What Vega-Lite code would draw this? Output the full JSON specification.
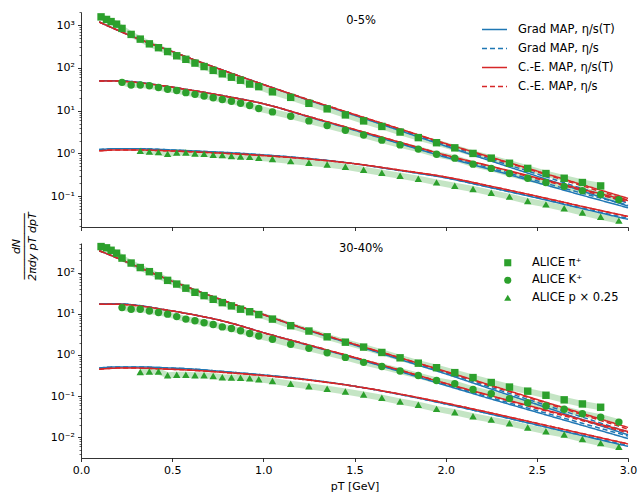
{
"$schema": "https://vega.github.io/schema/vega-lite/v6.json",
"padding": {"left": 10, "top": 4, "right": 5, "bottom": 2},
"bounds": "flush",
"spacing": 16,
"config": {
  "font": "DejaVu Sans",
  "view": {"stroke": null},
  "axis": {"domainColor": "#000", "tickColor": "#000", "labelColor": "#000", "titleColor": "#000", "labelFont": "DejaVu Sans", "titleFont": "DejaVu Sans", "labelFontSize": 11, "titleFontSize": 11, "titleFontWeight": "normal", "tickSize": 3.5, "domainWidth": 0.8, "tickWidth": 0.8, "grid": false, "labelPadding": 3, "labelFlush": false},
  "legend": {"labelFont": "DejaVu Sans", "labelFontSize": 11.5, "labelColor": "#000"}
},
"datasets": {
"pts": [
{"c":"a","s":"pi","x":0.11,"y":1549},{"c":"a","s":"pi","x":0.14,"y":1349},{"c":"a","s":"pi","x":0.165,"y":1202},{"c":"a","s":"pi","x":0.195,"y":1047},{"c":"a","s":"pi","x":0.225,"y":832},{"c":"a","s":"pi","x":0.275,"y":603},{"c":"a","s":"pi","x":0.325,"y":468},{"c":"a","s":"pi","x":0.375,"y":363},{"c":"a","s":"pi","x":0.425,"y":295},{"c":"a","s":"pi","x":0.475,"y":240},{"c":"a","s":"pi","x":0.525,"y":191},{"c":"a","s":"pi","x":0.575,"y":158},{"c":"a","s":"pi","x":0.625,"y":129},{"c":"a","s":"pi","x":0.675,"y":107},{"c":"a","s":"pi","x":0.725,"y":87.1},{"c":"a","s":"pi","x":0.775,"y":72.4},{"c":"a","s":"pi","x":0.825,"y":60.3},{"c":"a","s":"pi","x":0.875,"y":51.3},{"c":"a","s":"pi","x":0.925,"y":41.7},{"c":"a","s":"pi","x":0.975,"y":36.3},{"c":"a","s":"pi","x":1.05,"y":27.5},{"c":"a","s":"pi","x":1.15,"y":20.4},{"c":"a","s":"pi","x":1.25,"y":14.8},{"c":"a","s":"pi","x":1.35,"y":11.0},{"c":"a","s":"pi","x":1.45,"y":7.94},{"c":"a","s":"pi","x":1.55,"y":5.75},{"c":"a","s":"pi","x":1.65,"y":4.27},{"c":"a","s":"pi","x":1.75,"y":3.16},{"c":"a","s":"pi","x":1.85,"y":2.34},{"c":"a","s":"pi","x":1.95,"y":1.78},{"c":"a","s":"pi","x":2.05,"y":1.35},{"c":"a","s":"pi","x":2.15,"y":1.0},{"c":"a","s":"pi","x":2.25,"y":0.776},{"c":"a","s":"pi","x":2.35,"y":0.589},{"c":"a","s":"pi","x":2.45,"y":0.447},{"c":"a","s":"pi","x":2.55,"y":0.339},{"c":"a","s":"pi","x":2.65,"y":0.263},{"c":"a","s":"pi","x":2.75,"y":0.209},{"c":"a","s":"pi","x":2.85,"y":0.174},
{"c":"a","s":"K","x":0.225,"y":45.7},{"c":"a","s":"K","x":0.275,"y":39.8},{"c":"a","s":"K","x":0.325,"y":39.8},{"c":"a","s":"K","x":0.375,"y":38.0},{"c":"a","s":"K","x":0.425,"y":34.7},{"c":"a","s":"K","x":0.475,"y":31.6},{"c":"a","s":"K","x":0.525,"y":29.5},{"c":"a","s":"K","x":0.575,"y":26.3},{"c":"a","s":"K","x":0.625,"y":24.0},{"c":"a","s":"K","x":0.675,"y":21.9},{"c":"a","s":"K","x":0.725,"y":20.0},{"c":"a","s":"K","x":0.775,"y":18.2},{"c":"a","s":"K","x":0.825,"y":16.6},{"c":"a","s":"K","x":0.875,"y":14.8},{"c":"a","s":"K","x":0.925,"y":13.2},{"c":"a","s":"K","x":0.975,"y":11.2},{"c":"a","s":"K","x":1.05,"y":9.33},{"c":"a","s":"K","x":1.15,"y":7.41},{"c":"a","s":"K","x":1.25,"y":5.75},{"c":"a","s":"K","x":1.35,"y":4.47},{"c":"a","s":"K","x":1.45,"y":3.47},{"c":"a","s":"K","x":1.55,"y":2.69},{"c":"a","s":"K","x":1.65,"y":2.04},{"c":"a","s":"K","x":1.75,"y":1.58},{"c":"a","s":"K","x":1.85,"y":1.26},{"c":"a","s":"K","x":1.95,"y":0.955},{"c":"a","s":"K","x":2.05,"y":0.776},{"c":"a","s":"K","x":2.15,"y":0.562},{"c":"a","s":"K","x":2.25,"y":0.447},{"c":"a","s":"K","x":2.35,"y":0.339},{"c":"a","s":"K","x":2.45,"y":0.263},{"c":"a","s":"K","x":2.55,"y":0.209},{"c":"a","s":"K","x":2.65,"y":0.17},{"c":"a","s":"K","x":2.75,"y":0.135},{"c":"a","s":"K","x":2.85,"y":0.11},{"c":"a","s":"K","x":2.95,"y":0.0832},
{"c":"a","s":"p","x":0.325,"y":1.148},{"c":"a","s":"p","x":0.375,"y":1.1},{"c":"a","s":"p","x":0.425,"y":1.07},{"c":"a","s":"p","x":0.475,"y":0.977},{"c":"a","s":"p","x":0.525,"y":1.047},{"c":"a","s":"p","x":0.575,"y":1.047},{"c":"a","s":"p","x":0.625,"y":1.0},{"c":"a","s":"p","x":0.675,"y":0.977},{"c":"a","s":"p","x":0.725,"y":0.933},{"c":"a","s":"p","x":0.775,"y":0.912},{"c":"a","s":"p","x":0.825,"y":0.871},{"c":"a","s":"p","x":0.875,"y":0.851},{"c":"a","s":"p","x":0.925,"y":0.832},{"c":"a","s":"p","x":0.975,"y":0.794},{"c":"a","s":"p","x":1.05,"y":0.741},{"c":"a","s":"p","x":1.15,"y":0.661},{"c":"a","s":"p","x":1.25,"y":0.603},{"c":"a","s":"p","x":1.35,"y":0.55},{"c":"a","s":"p","x":1.45,"y":0.49},{"c":"a","s":"p","x":1.55,"y":0.417},{"c":"a","s":"p","x":1.65,"y":0.355},{"c":"a","s":"p","x":1.75,"y":0.302},{"c":"a","s":"p","x":1.85,"y":0.257},{"c":"a","s":"p","x":1.95,"y":0.211},{"c":"a","s":"p","x":2.05,"y":0.176},{"c":"a","s":"p","x":2.15,"y":0.148},{"c":"a","s":"p","x":2.25,"y":0.12},{"c":"a","s":"p","x":2.35,"y":0.0977},{"c":"a","s":"p","x":2.45,"y":0.0776},{"c":"a","s":"p","x":2.55,"y":0.0646},{"c":"a","s":"p","x":2.65,"y":0.0525},{"c":"a","s":"p","x":2.75,"y":0.0417},{"c":"a","s":"p","x":2.85,"y":0.0331},{"c":"a","s":"p","x":2.95,"y":0.0269},
{"c":"b","s":"pi","x":0.11,"y":427},{"c":"b","s":"pi","x":0.14,"y":398},{"c":"b","s":"pi","x":0.165,"y":347},{"c":"b","s":"pi","x":0.195,"y":295},{"c":"b","s":"pi","x":0.225,"y":224},{"c":"b","s":"pi","x":0.275,"y":170},{"c":"b","s":"pi","x":0.325,"y":132},{"c":"b","s":"pi","x":0.375,"y":105},{"c":"b","s":"pi","x":0.425,"y":83.2},{"c":"b","s":"pi","x":0.475,"y":64.6},{"c":"b","s":"pi","x":0.525,"y":52.5},{"c":"b","s":"pi","x":0.575,"y":41.7},{"c":"b","s":"pi","x":0.625,"y":33.1},{"c":"b","s":"pi","x":0.675,"y":27.5},{"c":"b","s":"pi","x":0.725,"y":22.4},{"c":"b","s":"pi","x":0.775,"y":18.6},{"c":"b","s":"pi","x":0.825,"y":15.5},{"c":"b","s":"pi","x":0.875,"y":12.9},{"c":"b","s":"pi","x":0.925,"y":11.2},{"c":"b","s":"pi","x":0.975,"y":9.55},{"c":"b","s":"pi","x":1.05,"y":7.41},{"c":"b","s":"pi","x":1.15,"y":5.13},{"c":"b","s":"pi","x":1.25,"y":3.8},{"c":"b","s":"pi","x":1.35,"y":2.75},{"c":"b","s":"pi","x":1.45,"y":2.04},{"c":"b","s":"pi","x":1.55,"y":1.55},{"c":"b","s":"pi","x":1.65,"y":1.148},{"c":"b","s":"pi","x":1.75,"y":0.851},{"c":"b","s":"pi","x":1.85,"y":0.631},{"c":"b","s":"pi","x":1.95,"y":0.49},{"c":"b","s":"pi","x":2.05,"y":0.372},{"c":"b","s":"pi","x":2.15,"y":0.282},{"c":"b","s":"pi","x":2.25,"y":0.214},{"c":"b","s":"pi","x":2.35,"y":0.166},{"c":"b","s":"pi","x":2.45,"y":0.132},{"c":"b","s":"pi","x":2.55,"y":0.105},{"c":"b","s":"pi","x":2.65,"y":0.0813},{"c":"b","s":"pi","x":2.75,"y":0.0646},{"c":"b","s":"pi","x":2.85,"y":0.0537},
{"c":"b","s":"K","x":0.225,"y":14.1},{"c":"b","s":"K","x":0.275,"y":12.9},{"c":"b","s":"K","x":0.325,"y":12.9},{"c":"b","s":"K","x":0.375,"y":11.7},{"c":"b","s":"K","x":0.425,"y":10.7},{"c":"b","s":"K","x":0.475,"y":9.77},{"c":"b","s":"K","x":0.525,"y":8.51},{"c":"b","s":"K","x":0.575,"y":7.41},{"c":"b","s":"K","x":0.625,"y":6.76},{"c":"b","s":"K","x":0.675,"y":6.03},{"c":"b","s":"K","x":0.725,"y":5.5},{"c":"b","s":"K","x":0.775,"y":4.79},{"c":"b","s":"K","x":0.825,"y":4.37},{"c":"b","s":"K","x":0.875,"y":3.85},{"c":"b","s":"K","x":0.925,"y":3.31},{"c":"b","s":"K","x":0.975,"y":2.88},{"c":"b","s":"K","x":1.05,"y":2.4},{"c":"b","s":"K","x":1.15,"y":1.82},{"c":"b","s":"K","x":1.25,"y":1.445},{"c":"b","s":"K","x":1.35,"y":1.122},{"c":"b","s":"K","x":1.45,"y":0.871},{"c":"b","s":"K","x":1.55,"y":0.661},{"c":"b","s":"K","x":1.65,"y":0.525},{"c":"b","s":"K","x":1.75,"y":0.407},{"c":"b","s":"K","x":1.85,"y":0.316},{"c":"b","s":"K","x":1.95,"y":0.24},{"c":"b","s":"K","x":2.05,"y":0.2},{"c":"b","s":"K","x":2.15,"y":0.145},{"c":"b","s":"K","x":2.25,"y":0.115},{"c":"b","s":"K","x":2.35,"y":0.0871},{"c":"b","s":"K","x":2.45,"y":0.0692},{"c":"b","s":"K","x":2.55,"y":0.0575},{"c":"b","s":"K","x":2.65,"y":0.0479},{"c":"b","s":"K","x":2.75,"y":0.0372},{"c":"b","s":"K","x":2.85,"y":0.0309},{"c":"b","s":"K","x":2.95,"y":0.0234},
{"c":"b","s":"p","x":0.325,"y":0.385},{"c":"b","s":"p","x":0.375,"y":0.398},{"c":"b","s":"p","x":0.425,"y":0.398},{"c":"b","s":"p","x":0.475,"y":0.32},{"c":"b","s":"p","x":0.525,"y":0.331},{"c":"b","s":"p","x":0.575,"y":0.331},{"c":"b","s":"p","x":0.625,"y":0.32},{"c":"b","s":"p","x":0.675,"y":0.32},{"c":"b","s":"p","x":0.725,"y":0.309},{"c":"b","s":"p","x":0.775,"y":0.288},{"c":"b","s":"p","x":0.825,"y":0.282},{"c":"b","s":"p","x":0.875,"y":0.279},{"c":"b","s":"p","x":0.925,"y":0.272},{"c":"b","s":"p","x":0.975,"y":0.257},{"c":"b","s":"p","x":1.05,"y":0.234},{"c":"b","s":"p","x":1.15,"y":0.2},{"c":"b","s":"p","x":1.25,"y":0.174},{"c":"b","s":"p","x":1.35,"y":0.151},{"c":"b","s":"p","x":1.45,"y":0.13},{"c":"b","s":"p","x":1.55,"y":0.11},{"c":"b","s":"p","x":1.65,"y":0.0912},{"c":"b","s":"p","x":1.75,"y":0.0741},{"c":"b","s":"p","x":1.85,"y":0.0617},{"c":"b","s":"p","x":1.95,"y":0.049},{"c":"b","s":"p","x":2.05,"y":0.0407},{"c":"b","s":"p","x":2.15,"y":0.0324},{"c":"b","s":"p","x":2.25,"y":0.0269},{"c":"b","s":"p","x":2.35,"y":0.0219},{"c":"b","s":"p","x":2.45,"y":0.0174},{"c":"b","s":"p","x":2.55,"y":0.0141},{"c":"b","s":"p","x":2.65,"y":0.0117},{"c":"b","s":"p","x":2.75,"y":0.00912},{"c":"b","s":"p","x":2.85,"y":0.00724},{"c":"b","s":"p","x":2.95,"y":0.00589}
],
"cur": [
{"c":"a","s":"pi","m":"GT","x":0.1,"y":1175},{"c":"a","s":"pi","m":"GT","x":0.2,"y":759},{"c":"a","s":"pi","m":"GT","x":0.3,"y":501},{"c":"a","s":"pi","m":"GT","x":0.45,"y":288},{"c":"a","s":"pi","m":"GT","x":0.6,"y":166},{"c":"a","s":"pi","m":"GT","x":0.8,"y":81.3},{"c":"a","s":"pi","m":"GT","x":1.0,"y":40.7},{"c":"a","s":"pi","m":"GT","x":1.25,"y":17.4},{"c":"a","s":"pi","m":"GT","x":1.5,"y":7.76},{"c":"a","s":"pi","m":"GT","x":1.75,"y":3.39},{"c":"a","s":"pi","m":"GT","x":2.0,"y":1.479},{"c":"a","s":"pi","m":"GT","x":2.25,"y":0.661},{"c":"a","s":"pi","m":"GT","x":2.5,"y":0.295},{"c":"a","s":"pi","m":"GT","x":2.75,"y":0.132},{"c":"a","s":"pi","m":"GT","x":3.0,"y":0.0589},
{"c":"a","s":"K","m":"GT","x":0.1,"y":50.1},{"c":"a","s":"K","m":"GT","x":0.2,"y":50.1},{"c":"a","s":"K","m":"GT","x":0.3,"y":46.8},{"c":"a","s":"K","m":"GT","x":0.45,"y":38.0},{"c":"a","s":"K","m":"GT","x":0.6,"y":30.2},{"c":"a","s":"K","m":"GT","x":0.8,"y":21.4},{"c":"a","s":"K","m":"GT","x":1.0,"y":14.5},{"c":"a","s":"K","m":"GT","x":1.25,"y":7.08},{"c":"a","s":"K","m":"GT","x":1.5,"y":3.47},{"c":"a","s":"K","m":"GT","x":1.75,"y":1.68},{"c":"a","s":"K","m":"GT","x":2.0,"y":0.813},{"c":"a","s":"K","m":"GT","x":2.25,"y":0.417},{"c":"a","s":"K","m":"GT","x":2.5,"y":0.209},{"c":"a","s":"K","m":"GT","x":2.75,"y":0.105},{"c":"a","s":"K","m":"GT","x":3.0,"y":0.0537},
{"c":"a","s":"p","m":"GT","x":0.1,"y":1.23},{"c":"a","s":"p","m":"GT","x":0.2,"y":1.288},{"c":"a","s":"p","m":"GT","x":0.3,"y":1.288},{"c":"a","s":"p","m":"GT","x":0.45,"y":1.23},{"c":"a","s":"p","m":"GT","x":0.6,"y":1.148},{"c":"a","s":"p","m":"GT","x":0.8,"y":1.047},{"c":"a","s":"p","m":"GT","x":1.0,"y":0.923},{"c":"a","s":"p","m":"GT","x":1.25,"y":0.759},{"c":"a","s":"p","m":"GT","x":1.5,"y":0.575},{"c":"a","s":"p","m":"GT","x":1.75,"y":0.398},{"c":"a","s":"p","m":"GT","x":2.0,"y":0.269},{"c":"a","s":"p","m":"GT","x":2.25,"y":0.158},{"c":"a","s":"p","m":"GT","x":2.5,"y":0.0912},{"c":"a","s":"p","m":"GT","x":2.75,"y":0.0513},{"c":"a","s":"p","m":"GT","x":3.0,"y":0.0288},
{"c":"a","s":"pi","m":"G","x":0.1,"y":1175},{"c":"a","s":"pi","m":"G","x":0.2,"y":759},{"c":"a","s":"pi","m":"G","x":0.3,"y":501},{"c":"a","s":"pi","m":"G","x":0.45,"y":288},{"c":"a","s":"pi","m":"G","x":0.6,"y":166},{"c":"a","s":"pi","m":"G","x":0.8,"y":81.3},{"c":"a","s":"pi","m":"G","x":1.0,"y":40.7},{"c":"a","s":"pi","m":"G","x":1.25,"y":17.8},{"c":"a","s":"pi","m":"G","x":1.5,"y":7.94},{"c":"a","s":"pi","m":"G","x":1.75,"y":3.55},{"c":"a","s":"pi","m":"G","x":2.0,"y":1.585},{"c":"a","s":"pi","m":"G","x":2.25,"y":0.724},{"c":"a","s":"pi","m":"G","x":2.5,"y":0.331},{"c":"a","s":"pi","m":"G","x":2.75,"y":0.151},{"c":"a","s":"pi","m":"G","x":3.0,"y":0.0692},
{"c":"a","s":"K","m":"G","x":0.1,"y":50.1},{"c":"a","s":"K","m":"G","x":0.2,"y":50.1},{"c":"a","s":"K","m":"G","x":0.3,"y":46.8},{"c":"a","s":"K","m":"G","x":0.45,"y":38.0},{"c":"a","s":"K","m":"G","x":0.6,"y":30.2},{"c":"a","s":"K","m":"G","x":0.8,"y":21.4},{"c":"a","s":"K","m":"G","x":1.0,"y":14.5},{"c":"a","s":"K","m":"G","x":1.25,"y":7.24},{"c":"a","s":"K","m":"G","x":1.5,"y":3.55},{"c":"a","s":"K","m":"G","x":1.75,"y":1.74},{"c":"a","s":"K","m":"G","x":2.0,"y":0.851},{"c":"a","s":"K","m":"G","x":2.25,"y":0.447},{"c":"a","s":"K","m":"G","x":2.5,"y":0.229},{"c":"a","s":"K","m":"G","x":2.75,"y":0.117},{"c":"a","s":"K","m":"G","x":3.0,"y":0.0617},
{"c":"a","s":"p","m":"G","x":0.1,"y":1.23},{"c":"a","s":"p","m":"G","x":0.2,"y":1.288},{"c":"a","s":"p","m":"G","x":0.3,"y":1.288},{"c":"a","s":"p","m":"G","x":0.45,"y":1.23},{"c":"a","s":"p","m":"G","x":0.6,"y":1.148},{"c":"a","s":"p","m":"G","x":0.8,"y":1.047},{"c":"a","s":"p","m":"G","x":1.0,"y":0.923},{"c":"a","s":"p","m":"G","x":1.25,"y":0.759},{"c":"a","s":"p","m":"G","x":1.5,"y":0.575},{"c":"a","s":"p","m":"G","x":1.75,"y":0.398},{"c":"a","s":"p","m":"G","x":2.0,"y":0.269},{"c":"a","s":"p","m":"G","x":2.25,"y":0.158},{"c":"a","s":"p","m":"G","x":2.5,"y":0.0933},{"c":"a","s":"p","m":"G","x":2.75,"y":0.0525},{"c":"a","s":"p","m":"G","x":3.0,"y":0.0302},
{"c":"a","s":"pi","m":"CT","x":0.1,"y":1175},{"c":"a","s":"pi","m":"CT","x":0.2,"y":759},{"c":"a","s":"pi","m":"CT","x":0.3,"y":501},{"c":"a","s":"pi","m":"CT","x":0.45,"y":288},{"c":"a","s":"pi","m":"CT","x":0.6,"y":166},{"c":"a","s":"pi","m":"CT","x":0.8,"y":81.3},{"c":"a","s":"pi","m":"CT","x":1.0,"y":40.7},{"c":"a","s":"pi","m":"CT","x":1.25,"y":17.8},{"c":"a","s":"pi","m":"CT","x":1.5,"y":8.13},{"c":"a","s":"pi","m":"CT","x":1.75,"y":3.72},{"c":"a","s":"pi","m":"CT","x":2.0,"y":1.7},{"c":"a","s":"pi","m":"CT","x":2.25,"y":0.813},{"c":"a","s":"pi","m":"CT","x":2.5,"y":0.389},{"c":"a","s":"pi","m":"CT","x":2.75,"y":0.186},{"c":"a","s":"pi","m":"CT","x":3.0,"y":0.0891},
{"c":"a","s":"K","m":"CT","x":0.1,"y":49.0},{"c":"a","s":"K","m":"CT","x":0.2,"y":49.0},{"c":"a","s":"K","m":"CT","x":0.3,"y":45.7},{"c":"a","s":"K","m":"CT","x":0.45,"y":38.0},{"c":"a","s":"K","m":"CT","x":0.6,"y":30.2},{"c":"a","s":"K","m":"CT","x":0.8,"y":21.4},{"c":"a","s":"K","m":"CT","x":1.0,"y":14.5},{"c":"a","s":"K","m":"CT","x":1.25,"y":7.24},{"c":"a","s":"K","m":"CT","x":1.5,"y":3.63},{"c":"a","s":"K","m":"CT","x":1.75,"y":1.82},{"c":"a","s":"K","m":"CT","x":2.0,"y":0.912},{"c":"a","s":"K","m":"CT","x":2.25,"y":0.501},{"c":"a","s":"K","m":"CT","x":2.5,"y":0.269},{"c":"a","s":"K","m":"CT","x":2.75,"y":0.145},{"c":"a","s":"K","m":"CT","x":3.0,"y":0.0794},
{"c":"a","s":"p","m":"CT","x":0.1,"y":1.148},{"c":"a","s":"p","m":"CT","x":0.2,"y":1.202},{"c":"a","s":"p","m":"CT","x":0.3,"y":1.202},{"c":"a","s":"p","m":"CT","x":0.45,"y":1.161},{"c":"a","s":"p","m":"CT","x":0.6,"y":1.096},{"c":"a","s":"p","m":"CT","x":0.8,"y":1.0},{"c":"a","s":"p","m":"CT","x":1.0,"y":0.891},{"c":"a","s":"p","m":"CT","x":1.25,"y":0.741},{"c":"a","s":"p","m":"CT","x":1.5,"y":0.575},{"c":"a","s":"p","m":"CT","x":1.75,"y":0.407},{"c":"a","s":"p","m":"CT","x":2.0,"y":0.282},{"c":"a","s":"p","m":"CT","x":2.25,"y":0.17},{"c":"a","s":"p","m":"CT","x":2.5,"y":0.1},{"c":"a","s":"p","m":"CT","x":2.75,"y":0.0575},{"c":"a","s":"p","m":"CT","x":3.0,"y":0.0339},
{"c":"a","s":"pi","m":"C","x":0.1,"y":1175},{"c":"a","s":"pi","m":"C","x":0.2,"y":759},{"c":"a","s":"pi","m":"C","x":0.3,"y":501},{"c":"a","s":"pi","m":"C","x":0.45,"y":288},{"c":"a","s":"pi","m":"C","x":0.6,"y":166},{"c":"a","s":"pi","m":"C","x":0.8,"y":81.3},{"c":"a","s":"pi","m":"C","x":1.0,"y":40.7},{"c":"a","s":"pi","m":"C","x":1.25,"y":17.8},{"c":"a","s":"pi","m":"C","x":1.5,"y":8.13},{"c":"a","s":"pi","m":"C","x":1.75,"y":3.72},{"c":"a","s":"pi","m":"C","x":2.0,"y":1.66},{"c":"a","s":"pi","m":"C","x":2.25,"y":0.785},{"c":"a","s":"pi","m":"C","x":2.5,"y":0.372},{"c":"a","s":"pi","m":"C","x":2.75,"y":0.174},{"c":"a","s":"pi","m":"C","x":3.0,"y":0.0813},
{"c":"a","s":"K","m":"C","x":0.1,"y":49.0},{"c":"a","s":"K","m":"C","x":0.2,"y":49.0},{"c":"a","s":"K","m":"C","x":0.3,"y":45.7},{"c":"a","s":"K","m":"C","x":0.45,"y":38.0},{"c":"a","s":"K","m":"C","x":0.6,"y":30.2},{"c":"a","s":"K","m":"C","x":0.8,"y":21.4},{"c":"a","s":"K","m":"C","x":1.0,"y":14.5},{"c":"a","s":"K","m":"C","x":1.25,"y":7.24},{"c":"a","s":"K","m":"C","x":1.5,"y":3.63},{"c":"a","s":"K","m":"C","x":1.75,"y":1.82},{"c":"a","s":"K","m":"C","x":2.0,"y":0.902},{"c":"a","s":"K","m":"C","x":2.25,"y":0.49},{"c":"a","s":"K","m":"C","x":2.5,"y":0.257},{"c":"a","s":"K","m":"C","x":2.75,"y":0.136},{"c":"a","s":"K","m":"C","x":3.0,"y":0.0741},
{"c":"a","s":"p","m":"C","x":0.1,"y":1.148},{"c":"a","s":"p","m":"C","x":0.2,"y":1.202},{"c":"a","s":"p","m":"C","x":0.3,"y":1.202},{"c":"a","s":"p","m":"C","x":0.45,"y":1.161},{"c":"a","s":"p","m":"C","x":0.6,"y":1.096},{"c":"a","s":"p","m":"C","x":0.8,"y":1.0},{"c":"a","s":"p","m":"C","x":1.0,"y":0.891},{"c":"a","s":"p","m":"C","x":1.25,"y":0.741},{"c":"a","s":"p","m":"C","x":1.5,"y":0.575},{"c":"a","s":"p","m":"C","x":1.75,"y":0.407},{"c":"a","s":"p","m":"C","x":2.0,"y":0.282},{"c":"a","s":"p","m":"C","x":2.25,"y":0.17},{"c":"a","s":"p","m":"C","x":2.5,"y":0.1},{"c":"a","s":"p","m":"C","x":2.75,"y":0.0575},{"c":"a","s":"p","m":"C","x":3.0,"y":0.0331},
{"c":"b","s":"pi","m":"GT","x":0.1,"y":339},{"c":"b","s":"pi","m":"GT","x":0.2,"y":224},{"c":"b","s":"pi","m":"GT","x":0.3,"y":145},{"c":"b","s":"pi","m":"GT","x":0.45,"y":75.9},{"c":"b","s":"pi","m":"GT","x":0.6,"y":41.7},{"c":"b","s":"pi","m":"GT","x":0.8,"y":19.5},{"c":"b","s":"pi","m":"GT","x":1.0,"y":9.55},{"c":"b","s":"pi","m":"GT","x":1.25,"y":3.89},{"c":"b","s":"pi","m":"GT","x":1.5,"y":1.738},{"c":"b","s":"pi","m":"GT","x":1.75,"y":0.776},{"c":"b","s":"pi","m":"GT","x":2.0,"y":0.347},{"c":"b","s":"pi","m":"GT","x":2.25,"y":0.148},{"c":"b","s":"pi","m":"GT","x":2.5,"y":0.0631},{"c":"b","s":"pi","m":"GT","x":2.75,"y":0.0269},{"c":"b","s":"pi","m":"GT","x":3.0,"y":0.0115},
{"c":"b","s":"K","m":"GT","x":0.1,"y":17.4},{"c":"b","s":"K","m":"GT","x":0.2,"y":17.4},{"c":"b","s":"K","m":"GT","x":0.3,"y":16.2},{"c":"b","s":"K","m":"GT","x":0.45,"y":12.7},{"c":"b","s":"K","m":"GT","x":0.6,"y":9.77},{"c":"b","s":"K","m":"GT","x":0.8,"y":6.31},{"c":"b","s":"K","m":"GT","x":1.0,"y":3.47},{"c":"b","s":"K","m":"GT","x":1.25,"y":1.698},{"c":"b","s":"K","m":"GT","x":1.5,"y":0.832},{"c":"b","s":"K","m":"GT","x":1.75,"y":0.394},{"c":"b","s":"K","m":"GT","x":2.0,"y":0.182},{"c":"b","s":"K","m":"GT","x":2.25,"y":0.0851},{"c":"b","s":"K","m":"GT","x":2.5,"y":0.0407},{"c":"b","s":"K","m":"GT","x":2.75,"y":0.0195},{"c":"b","s":"K","m":"GT","x":3.0,"y":0.00933},
{"c":"b","s":"p","m":"GT","x":0.1,"y":0.479},{"c":"b","s":"p","m":"GT","x":0.2,"y":0.513},{"c":"b","s":"p","m":"GT","x":0.3,"y":0.513},{"c":"b","s":"p","m":"GT","x":0.45,"y":0.49},{"c":"b","s":"p","m":"GT","x":0.6,"y":0.457},{"c":"b","s":"p","m":"GT","x":0.8,"y":0.389},{"c":"b","s":"p","m":"GT","x":1.0,"y":0.327},{"c":"b","s":"p","m":"GT","x":1.25,"y":0.251},{"c":"b","s":"p","m":"GT","x":1.5,"y":0.174},{"c":"b","s":"p","m":"GT","x":1.75,"y":0.11},{"c":"b","s":"p","m":"GT","x":2.0,"y":0.0646},{"c":"b","s":"p","m":"GT","x":2.25,"y":0.0363},{"c":"b","s":"p","m":"GT","x":2.5,"y":0.02},{"c":"b","s":"p","m":"GT","x":2.75,"y":0.011},{"c":"b","s":"p","m":"GT","x":3.0,"y":0.00603},
{"c":"b","s":"pi","m":"G","x":0.1,"y":339},{"c":"b","s":"pi","m":"G","x":0.2,"y":224},{"c":"b","s":"pi","m":"G","x":0.3,"y":145},{"c":"b","s":"pi","m":"G","x":0.45,"y":75.9},{"c":"b","s":"pi","m":"G","x":0.6,"y":41.7},{"c":"b","s":"pi","m":"G","x":0.8,"y":19.5},{"c":"b","s":"pi","m":"G","x":1.0,"y":9.55},{"c":"b","s":"pi","m":"G","x":1.25,"y":3.98},{"c":"b","s":"pi","m":"G","x":1.5,"y":1.778},{"c":"b","s":"pi","m":"G","x":1.75,"y":0.813},{"c":"b","s":"pi","m":"G","x":2.0,"y":0.372},{"c":"b","s":"pi","m":"G","x":2.25,"y":0.162},{"c":"b","s":"pi","m":"G","x":2.5,"y":0.0708},{"c":"b","s":"pi","m":"G","x":2.75,"y":0.0309},{"c":"b","s":"pi","m":"G","x":3.0,"y":0.0135},
{"c":"b","s":"K","m":"G","x":0.1,"y":17.4},{"c":"b","s":"K","m":"G","x":0.2,"y":17.4},{"c":"b","s":"K","m":"G","x":0.3,"y":16.2},{"c":"b","s":"K","m":"G","x":0.45,"y":12.7},{"c":"b","s":"K","m":"G","x":0.6,"y":9.77},{"c":"b","s":"K","m":"G","x":0.8,"y":6.31},{"c":"b","s":"K","m":"G","x":1.0,"y":3.47},{"c":"b","s":"K","m":"G","x":1.25,"y":1.738},{"c":"b","s":"K","m":"G","x":1.5,"y":0.851},{"c":"b","s":"K","m":"G","x":1.75,"y":0.407},{"c":"b","s":"K","m":"G","x":2.0,"y":0.191},{"c":"b","s":"K","m":"G","x":2.25,"y":0.0912},{"c":"b","s":"K","m":"G","x":2.5,"y":0.0447},{"c":"b","s":"K","m":"G","x":2.75,"y":0.0219},{"c":"b","s":"K","m":"G","x":3.0,"y":0.0107},
{"c":"b","s":"p","m":"G","x":0.1,"y":0.479},{"c":"b","s":"p","m":"G","x":0.2,"y":0.513},{"c":"b","s":"p","m":"G","x":0.3,"y":0.513},{"c":"b","s":"p","m":"G","x":0.45,"y":0.49},{"c":"b","s":"p","m":"G","x":0.6,"y":0.457},{"c":"b","s":"p","m":"G","x":0.8,"y":0.389},{"c":"b","s":"p","m":"G","x":1.0,"y":0.327},{"c":"b","s":"p","m":"G","x":1.25,"y":0.251},{"c":"b","s":"p","m":"G","x":1.5,"y":0.174},{"c":"b","s":"p","m":"G","x":1.75,"y":0.11},{"c":"b","s":"p","m":"G","x":2.0,"y":0.0646},{"c":"b","s":"p","m":"G","x":2.25,"y":0.0363},{"c":"b","s":"p","m":"G","x":2.5,"y":0.02},{"c":"b","s":"p","m":"G","x":2.75,"y":0.0112},{"c":"b","s":"p","m":"G","x":3.0,"y":0.00631},
{"c":"b","s":"pi","m":"CT","x":0.1,"y":339},{"c":"b","s":"pi","m":"CT","x":0.2,"y":224},{"c":"b","s":"pi","m":"CT","x":0.3,"y":145},{"c":"b","s":"pi","m":"CT","x":0.45,"y":75.9},{"c":"b","s":"pi","m":"CT","x":0.6,"y":41.7},{"c":"b","s":"pi","m":"CT","x":0.8,"y":19.5},{"c":"b","s":"pi","m":"CT","x":1.0,"y":9.55},{"c":"b","s":"pi","m":"CT","x":1.25,"y":3.98},{"c":"b","s":"pi","m":"CT","x":1.5,"y":1.82},{"c":"b","s":"pi","m":"CT","x":1.75,"y":0.851},{"c":"b","s":"pi","m":"CT","x":2.0,"y":0.398},{"c":"b","s":"pi","m":"CT","x":2.25,"y":0.182},{"c":"b","s":"pi","m":"CT","x":2.5,"y":0.0832},{"c":"b","s":"pi","m":"CT","x":2.75,"y":0.038},{"c":"b","s":"pi","m":"CT","x":3.0,"y":0.0174},
{"c":"b","s":"K","m":"CT","x":0.1,"y":17.0},{"c":"b","s":"K","m":"CT","x":0.2,"y":17.0},{"c":"b","s":"K","m":"CT","x":0.3,"y":15.8},{"c":"b","s":"K","m":"CT","x":0.45,"y":12.7},{"c":"b","s":"K","m":"CT","x":0.6,"y":9.77},{"c":"b","s":"K","m":"CT","x":0.8,"y":6.31},{"c":"b","s":"K","m":"CT","x":1.0,"y":3.47},{"c":"b","s":"K","m":"CT","x":1.25,"y":1.738},{"c":"b","s":"K","m":"CT","x":1.5,"y":0.871},{"c":"b","s":"K","m":"CT","x":1.75,"y":0.427},{"c":"b","s":"K","m":"CT","x":2.0,"y":0.204},{"c":"b","s":"K","m":"CT","x":2.25,"y":0.102},{"c":"b","s":"K","m":"CT","x":2.5,"y":0.0525},{"c":"b","s":"K","m":"CT","x":2.75,"y":0.0269},{"c":"b","s":"K","m":"CT","x":3.0,"y":0.0138},
{"c":"b","s":"p","m":"CT","x":0.1,"y":0.447},{"c":"b","s":"p","m":"CT","x":0.2,"y":0.479},{"c":"b","s":"p","m":"CT","x":0.3,"y":0.479},{"c":"b","s":"p","m":"CT","x":0.45,"y":0.457},{"c":"b","s":"p","m":"CT","x":0.6,"y":0.427},{"c":"b","s":"p","m":"CT","x":0.8,"y":0.372},{"c":"b","s":"p","m":"CT","x":1.0,"y":0.316},{"c":"b","s":"p","m":"CT","x":1.25,"y":0.245},{"c":"b","s":"p","m":"CT","x":1.5,"y":0.174},{"c":"b","s":"p","m":"CT","x":1.75,"y":0.112},{"c":"b","s":"p","m":"CT","x":2.0,"y":0.0676},{"c":"b","s":"p","m":"CT","x":2.25,"y":0.0389},{"c":"b","s":"p","m":"CT","x":2.5,"y":0.0219},{"c":"b","s":"p","m":"CT","x":2.75,"y":0.0123},{"c":"b","s":"p","m":"CT","x":3.0,"y":0.00692},
{"c":"b","s":"pi","m":"C","x":0.1,"y":339},{"c":"b","s":"pi","m":"C","x":0.2,"y":224},{"c":"b","s":"pi","m":"C","x":0.3,"y":145},{"c":"b","s":"pi","m":"C","x":0.45,"y":75.9},{"c":"b","s":"pi","m":"C","x":0.6,"y":41.7},{"c":"b","s":"pi","m":"C","x":0.8,"y":19.5},{"c":"b","s":"pi","m":"C","x":1.0,"y":9.55},{"c":"b","s":"pi","m":"C","x":1.25,"y":3.98},{"c":"b","s":"pi","m":"C","x":1.5,"y":1.82},{"c":"b","s":"pi","m":"C","x":1.75,"y":0.851},{"c":"b","s":"pi","m":"C","x":2.0,"y":0.389},{"c":"b","s":"pi","m":"C","x":2.25,"y":0.176},{"c":"b","s":"pi","m":"C","x":2.5,"y":0.0794},{"c":"b","s":"pi","m":"C","x":2.75,"y":0.0355},{"c":"b","s":"pi","m":"C","x":3.0,"y":0.0158},
{"c":"b","s":"K","m":"C","x":0.1,"y":17.0},{"c":"b","s":"K","m":"C","x":0.2,"y":17.0},{"c":"b","s":"K","m":"C","x":0.3,"y":15.8},{"c":"b","s":"K","m":"C","x":0.45,"y":12.7},{"c":"b","s":"K","m":"C","x":0.6,"y":9.77},{"c":"b","s":"K","m":"C","x":0.8,"y":6.31},{"c":"b","s":"K","m":"C","x":1.0,"y":3.47},{"c":"b","s":"K","m":"C","x":1.25,"y":1.738},{"c":"b","s":"K","m":"C","x":1.5,"y":0.871},{"c":"b","s":"K","m":"C","x":1.75,"y":0.427},{"c":"b","s":"K","m":"C","x":2.0,"y":0.202},{"c":"b","s":"K","m":"C","x":2.25,"y":0.1},{"c":"b","s":"K","m":"C","x":2.5,"y":0.0501},{"c":"b","s":"K","m":"C","x":2.75,"y":0.0254},{"c":"b","s":"K","m":"C","x":3.0,"y":0.0129},
{"c":"b","s":"p","m":"C","x":0.1,"y":0.447},{"c":"b","s":"p","m":"C","x":0.2,"y":0.479},{"c":"b","s":"p","m":"C","x":0.3,"y":0.479},{"c":"b","s":"p","m":"C","x":0.45,"y":0.457},{"c":"b","s":"p","m":"C","x":0.6,"y":0.427},{"c":"b","s":"p","m":"C","x":0.8,"y":0.372},{"c":"b","s":"p","m":"C","x":1.0,"y":0.316},{"c":"b","s":"p","m":"C","x":1.25,"y":0.245},{"c":"b","s":"p","m":"C","x":1.5,"y":0.174},{"c":"b","s":"p","m":"C","x":1.75,"y":0.112},{"c":"b","s":"p","m":"C","x":2.0,"y":0.0676},{"c":"b","s":"p","m":"C","x":2.25,"y":0.0389},{"c":"b","s":"p","m":"C","x":2.5,"y":0.0219},{"c":"b","s":"p","m":"C","x":2.75,"y":0.0123},{"c":"b","s":"p","m":"C","x":3.0,"y":0.00692}
]
},
"resolve": {"scale": {"y": "independent", "color": "independent", "strokeDash": "independent", "shape": "independent"}},
"vconcat": [
{
  "width": 547, "height": 215,
  "encoding": {"x": {"field": "x", "type": "quantitative", "scale": {"domain": [0, 3], "nice": false}, "axis": {"values": [0, 0.5, 1, 1.5, 2, 2.5, 3], "labels": false, "title": null}}},
  "resolve": {"axis": {"y": "independent"}},
  "layer": [
    {"data": {"name": "pts"}, "transform": [{"filter": "datum.c == 'a'"}],
     "mark": {"type": "line", "color": "#2ca02c", "strokeWidth": 6, "opacity": 0.28},
     "encoding": {"detail": {"field": "s"},
       "y": {"field": "y", "type": "quantitative", "scale": {"type": "log", "domain": [0.0191, 2013], "nice": false},
             "axis": {"values": [0.02,0.03,0.04,0.05,0.06,0.07,0.08,0.09,0.2,0.3,0.4,0.5,0.6,0.7,0.8,0.9,2,3,4,5,6,7,8,9,20,30,40,50,60,70,80,90,200,300,400,500,600,700,800,900,2000], "labels": false, "domain": false, "tickSize": 2, "tickWidth": 0.6, "title": null, "orient": "left"}}}},
    {"data": {"name": "cur"}, "transform": [{"filter": "datum.c == 'a'"}],
     "mark": {"type": "line", "strokeWidth": 1.5, "interpolate": "monotone"},
     "encoding": {"detail": {"field": "s"},
       "y": {"field": "y", "type": "quantitative", "scale": {"type": "log", "domain": [0.0191, 2013], "nice": false},
             "axis": {"values": [0.1, 1, 10, 100, 1000], "orient": "left",
               "labelExpr": "datum.value >= 999 ? '10³' : datum.value >= 99 ? '10²' : datum.value >= 9 ? '10¹' : datum.value >= 0.9 ? '10⁰' : datum.value >= 0.09 ? '10⁻¹' : '10⁻²'",
               "title": ["dN", "──────────", "2πdy pT dpT"], "titleFontStyle": "italic", "titleFontSize": 11, "titleLineHeight": 8, "titleAngle": -90, "titleAlign": "center", "titleBaseline": "bottom", "titleX": -60, "titleY": 234}},
       "color": {"field": "m", "type": "nominal", "scale": {"domain": ["GT", "G", "CT", "C"], "range": ["#1f77b4", "#1f77b4", "#d62728", "#d62728"]},
                 "legend": {"orient": "none", "legendX": 400, "legendY": 4, "title": null, "symbolType": "stroke", "symbolSize": 625, "symbolStrokeWidth": 1.5, "labelOffset": 10, "rowPadding": -5.5, "labelFontSize": 11.5,
                   "labelExpr": "datum.label == 'GT' ? 'Grad MAP, η/s(T)' : datum.label == 'G' ? 'Grad MAP, η/s' : datum.label == 'CT' ? 'C.-E. MAP, η/s(T)' : 'C.-E. MAP, η/s'"}},
       "strokeDash": {"field": "m", "type": "nominal", "scale": {"domain": ["GT", "G", "CT", "C"], "range": [[1, 0], [5, 3], [1, 0], [5, 3]]},
                 "legend": {"orient": "none", "legendX": 400, "legendY": 4, "title": null, "symbolType": "stroke", "symbolSize": 625, "symbolStrokeWidth": 1.5, "labelOffset": 10, "rowPadding": -5.5, "labelFontSize": 11.5,
                   "labelExpr": "datum.label == 'GT' ? 'Grad MAP, η/s(T)' : datum.label == 'G' ? 'Grad MAP, η/s' : datum.label == 'CT' ? 'C.-E. MAP, η/s(T)' : 'C.-E. MAP, η/s'"}}}},
    {"data": {"name": "pts"}, "transform": [{"filter": "datum.c == 'a'"}],
     "mark": {"type": "point", "filled": true, "color": "#2ca02c", "opacity": 1, "size": 55},
     "encoding": {
       "y": {"field": "y", "type": "quantitative", "scale": {"type": "log", "domain": [0.0191, 2013], "nice": false}, "axis": null},
       "shape": {"field": "s", "type": "nominal", "scale": {"domain": ["pi", "K", "p"], "range": ["square", "circle", "triangle-up"]}, "legend": null}}},
    {"data": {"values": [{"x": 1.536, "y": 1243, "t": "0-5%"}]},
     "mark": {"type": "text", "fontSize": 11.5, "baseline": "middle", "align": "center", "color": "#000"},
     "encoding": {"y": {"field": "y", "type": "quantitative", "scale": {"type": "log", "domain": [0.0191, 2013], "nice": false}, "axis": null}, "text": {"field": "t"}}}
  ]
},
{
  "width": 547, "height": 215,
  "encoding": {"x": {"field": "x", "type": "quantitative", "scale": {"domain": [0, 3], "nice": false}, "axis": {"values": [0, 0.5, 1, 1.5, 2, 2.5, 3], "format": ".1f", "title": "pT [GeV]", "titlePadding": 5}}},
  "resolve": {"axis": {"y": "independent"}},
  "layer": [
    {"data": {"name": "pts"}, "transform": [{"filter": "datum.c == 'b'"}],
     "mark": {"type": "line", "color": "#2ca02c", "strokeWidth": 6, "opacity": 0.28},
     "encoding": {"detail": {"field": "s"},
       "y": {"field": "y", "type": "quantitative", "scale": {"type": "log", "domain": [0.00315, 521], "nice": false},
             "axis": {"values": [0.004,0.005,0.006,0.007,0.008,0.009,0.02,0.03,0.04,0.05,0.06,0.07,0.08,0.09,0.2,0.3,0.4,0.5,0.6,0.7,0.8,0.9,2,3,4,5,6,7,8,9,20,30,40,50,60,70,80,90,200,300,400,500], "labels": false, "domain": false, "tickSize": 2, "tickWidth": 0.6, "title": null, "orient": "left"}}}},
    {"data": {"name": "cur"}, "transform": [{"filter": "datum.c == 'b'"}],
     "mark": {"type": "line", "strokeWidth": 1.5, "interpolate": "monotone"},
     "encoding": {"detail": {"field": "s"},
       "y": {"field": "y", "type": "quantitative", "scale": {"type": "log", "domain": [0.00315, 521], "nice": false},
             "axis": {"values": [0.01, 0.1, 1, 10, 100], "orient": "left", "title": null,
               "labelExpr": "datum.value >= 999 ? '10³' : datum.value >= 99 ? '10²' : datum.value >= 9 ? '10¹' : datum.value >= 0.9 ? '10⁰' : datum.value >= 0.09 ? '10⁻¹' : '10⁻²'"}},
       "color": {"field": "m", "type": "nominal", "scale": {"domain": ["GT", "G", "CT", "C"], "range": ["#1f77b4", "#1f77b4", "#d62728", "#d62728"]}, "legend": null},
       "strokeDash": {"field": "m", "type": "nominal", "scale": {"domain": ["GT", "G", "CT", "C"], "range": [[1, 0], [5, 3], [1, 0], [5, 3]]}, "legend": null}}},
    {"data": {"name": "pts"}, "transform": [{"filter": "datum.c == 'b'"}],
     "mark": {"type": "point", "filled": true, "color": "#2ca02c", "opacity": 1, "size": 55},
     "encoding": {
       "y": {"field": "y", "type": "quantitative", "scale": {"type": "log", "domain": [0.00315, 521], "nice": false}, "axis": null},
       "shape": {"field": "s", "type": "nominal", "scale": {"domain": ["pi", "K", "p"], "range": ["square", "circle", "triangle-up"]},
                 "legend": {"orient": "none", "legendX": 421, "legendY": 14, "title": null, "symbolSize": 50, "symbolFillColor": "#2ca02c", "symbolStrokeWidth": 0, "labelOffset": 18.5, "rowPadding": 4.5, "labelFontSize": 11.5,
                   "labelExpr": "datum.label == 'pi' ? 'ALICE π⁺' : datum.label == 'K' ? 'ALICE K⁺' : 'ALICE p × 0.25'"}}}},
    {"data": {"values": [{"x": 1.536, "y": 379, "t": "30-40%"}]},
     "mark": {"type": "text", "fontSize": 11.5, "baseline": "middle", "align": "center", "color": "#000"},
     "encoding": {"y": {"field": "y", "type": "quantitative", "scale": {"type": "log", "domain": [0.00315, 521], "nice": false}, "axis": null}, "text": {"field": "t"}}}
  ]
}
]
}
